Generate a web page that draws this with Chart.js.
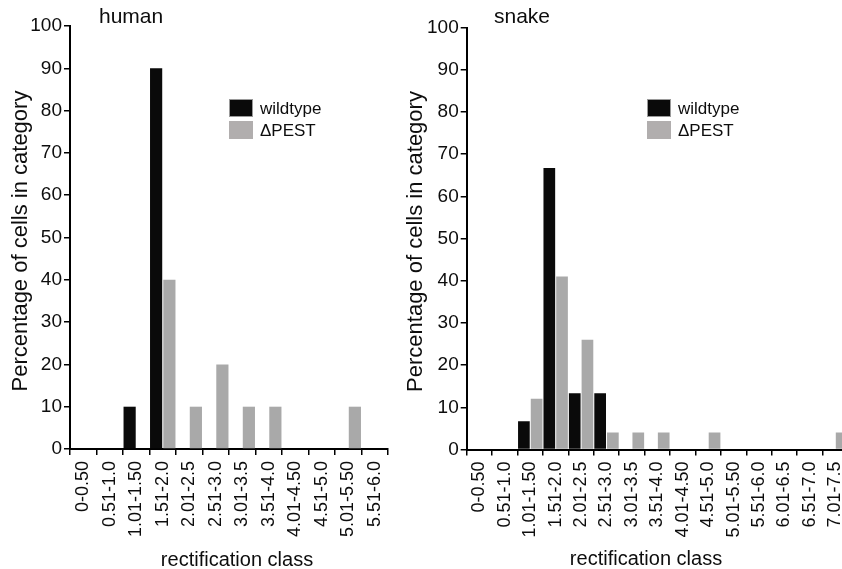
<!DOCTYPE html>
<html>
<head>
<meta charset="utf-8">
<script src="https://cdn.jsdelivr.net/npm/chart.js@4.4.1/dist/chart.umd.min.js"></script>
<style>
  html, body { margin:0; padding:0; background:#fff; overflow:hidden; width:842px; height:569px; }
  canvas { position:absolute; top:0; }
</style>
</head>
<body>
<canvas id="human" width="430" height="569" style="left:0px;width:430px;height:569px"></canvas>
<canvas id="snake" width="490" height="569" style="left:390px;width:490px;height:569px"></canvas>
<script>
// ---- data ----
const humanCategories = ['0-0.50','0.51-1.0','1.01-1.50','1.51-2.0','2.01-2.5','2.51-3.0','3.01-3.5','3.51-4.0','4.01-4.50','4.51-5.0','5.01-5.50','5.51-6.0'];
const humanWildtype   = [0, 0, 10, 90, 0, 0, 0, 0, 0, 0, 0, 0];
const humanDeltaPEST  = [0, 0, 0, 40, 10, 20, 10, 10, 0, 0, 10, 0];

const snakeCategories = ['0-0.50','0.51-1.0','1.01-1.50','1.51-2.0','2.01-2.5','2.51-3.0','3.01-3.5','3.51-4.0','4.01-4.50','4.51-5.0','5.01-5.50','5.51-6.0','6.01-6.5','6.51-7.0','7.01-7.5'];
const snakeWildtype   = [0, 0, 6.7, 66.7, 13.3, 13.3, 0, 0, 0, 0, 0, 0, 0, 0, 0];
const snakeDeltaPEST  = [0, 0, 12, 41, 26, 4, 4, 4, 0, 4, 0, 0, 0, 0, 4];

const seriesLabels = ['wildtype', '\u0394PEST'];
const panelTitles = ['human', 'snake'];
const xAxisTitle = 'rectification class';
const yAxisTitle = 'Percentage of cells in category';

// ---- style ----
const FONT = "'Liberation Sans', Arial, Helvetica, sans-serif";
const BLACK = '#0a0a0a';
const GRAY = '#a9a9a9';
const LEGEND_GRAY = '#b1aeae';

const panelTextPlugin = {
  id: 'panelText',
  afterDraw(chart, args, o) {
    const ctx = chart.ctx;
    ctx.save();
    ctx.fillStyle = '#0d0d0d';
    // panel title
    ctx.font = '21px ' + FONT;
    ctx.textAlign = 'left';
    ctx.textBaseline = 'alphabetic';
    ctx.fillText(o.title, o.titleX, o.titleY);
    // x axis title
    ctx.font = '20px ' + FONT;
    ctx.textAlign = 'center';
    ctx.fillText(o.xTitle, o.xTitleX, o.xTitleY);
    // y axis title
    ctx.save();
    ctx.translate(o.yTitleX, o.yTitleY);
    ctx.rotate(-Math.PI / 2);
    ctx.font = '22px ' + FONT;
    ctx.textAlign = 'center';
    ctx.fillText(o.yTitle, 0, 0);
    ctx.restore();
    // legend
    ctx.font = '17px ' + FONT;
    ctx.textAlign = 'left';
    chart.data.datasets.forEach((ds, i) => {
      const y = o.legendY + i * 22;
      ctx.fillStyle = i === 0 ? BLACK : LEGEND_GRAY;
      ctx.fillRect(o.legendX, y, 24, 18);
      if (i === 0) {
        ctx.strokeStyle = '#9a9a9a';
        ctx.lineWidth = 1;
        ctx.strokeRect(o.legendX + 0.5, y + 0.5, 23, 17);
      }
      ctx.fillStyle = '#0d0d0d';
      ctx.fillText(ds.label, o.legendX + 31, y + 15);
    });
    ctx.restore();
  }
};

function makeChart(id, cats, wt, dp, layout, text) {
  return new Chart(document.getElementById(id), {
    type: 'bar',
    data: {
      labels: cats,
      datasets: [
        { label: seriesLabels[0], data: wt, backgroundColor: BLACK, borderWidth: 0,
          categoryPercentage: 1.0, barPercentage: 0.92 },
        { label: seriesLabels[1], data: dp, backgroundColor: GRAY, borderWidth: 0,
          categoryPercentage: 1.0, barPercentage: 0.92 }
      ]
    },
    options: {
      responsive: false,
      animation: false,
      devicePixelRatio: 1,
      layout: { padding: { left: 0, right: layout.padRight, top: layout.top, bottom: 0 } },
      plugins: {
        legend: { display: false },
        tooltip: { enabled: false },
        panelText: text
      },
      scales: {
        x: {
          type: 'category',
          offset: true,
          grid: { offset: true, drawOnChartArea: false, drawTicks: true, tickLength: 6, color: '#000', lineWidth: 1.5 },
          border: { display: true, color: '#000', width: 2 },
          ticks: { color: '#0d0d0d', font: { size: 18, family: FONT }, minRotation: 90, maxRotation: 90, padding: 6, autoSkip: false },
          afterFit(s) { s.height = layout.xHeight; }
        },
        y: {
          min: 0, max: 100,
          ticks: { stepSize: 10, color: '#0d0d0d', font: { size: 19, family: FONT }, padding: 2 },
          grid: { drawOnChartArea: false, drawTicks: true, tickLength: 6, color: '#000', lineWidth: 1.5 },
          border: { display: true, color: '#000', width: 2 },
          afterFit(s) { s.width = layout.yWidth; }
        }
      }
    },
    plugins: [panelTextPlugin]
  });
}

makeChart('human', humanCategories, humanWildtype, humanDeltaPEST,
  { padRight: 430 - 388, top: 26, xHeight: 569 - 449, yWidth: 70 },
  { title: panelTitles[0], titleX: 99, titleY: 23.3,
    xTitle: xAxisTitle, xTitleX: 237, xTitleY: 566,
    yTitle: yAxisTitle, yTitleX: 26.5, yTitleY: 241,
    legendX: 229, legendY: 99 });

makeChart('snake', snakeCategories, snakeWildtype, snakeDeltaPEST,
  { padRight: 490 - (848 - 390), top: 27.5, xHeight: 569 - 449.5, yWidth: 466.7 - 390 },
  { title: panelTitles[1], titleX: 494 - 390, titleY: 22.8,
    xTitle: xAxisTitle, xTitleX: 646 - 390, xTitleY: 565,
    yTitle: yAxisTitle, yTitleX: 421.5 - 390, yTitleY: 241.5,
    legendX: 647 - 390, legendY: 99 });
</script>
</body>
</html>
